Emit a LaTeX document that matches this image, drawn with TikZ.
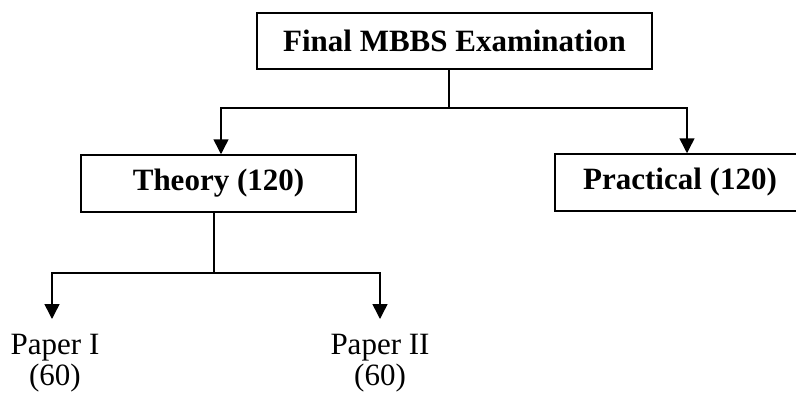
\documentclass[tikz,border=0pt]{standalone}
\usepackage{fontspec}
\setmainfont{Liberation Serif}
\usetikzlibrary{arrows.meta}
\begin{document}
\begin{tikzpicture}[x=1pt,y=-1pt,
  line width=1.5pt,
  box/.style={draw, line width=1.5pt, inner sep=0pt, font=\fontsize{31}{31}\selectfont\bfseries},
  leaf/.style={inner sep=0pt, align=center, font=\fontsize{31}{31}\selectfont},
  arr/.style={-{Triangle[length=15pt,width=15pt]}}]
\useasboundingbox (0,0) rectangle (796,394);
\node[box, minimum width=395pt, minimum height=56pt] (top) at (454.5,41) {Final MBBS Examination};
\node[box, minimum width=275pt, minimum height=57pt] (theory) at (218.5,183.5) {Theory (120)};
\node[box, minimum width=250pt, minimum height=57pt] (practical) at (680,182.5) {Practical (120)};
\node[leaf, anchor=north] (p1) at (55,333) {Paper I\\(60)};
\node[leaf, anchor=north] (p2) at (380,333) {Paper II\\(60)};
\coordinate (j1) at (449,108);
\coordinate (j2) at (214,273);
\coordinate (a1) at (52,319);
\coordinate (a2) at (380,319);
\draw (top.south -| j1) -- (j1);
\draw[arr] (j1) -| ([xshift=2.5pt]theory.north);
\draw[arr] (j1) -| ([xshift=7pt]practical.north);
\draw (theory.south -| j2) -- (j2);
\draw[arr] (j2) -| (a1);
\draw[arr] (j2) -| (a2);
\end{tikzpicture}
\end{document}
